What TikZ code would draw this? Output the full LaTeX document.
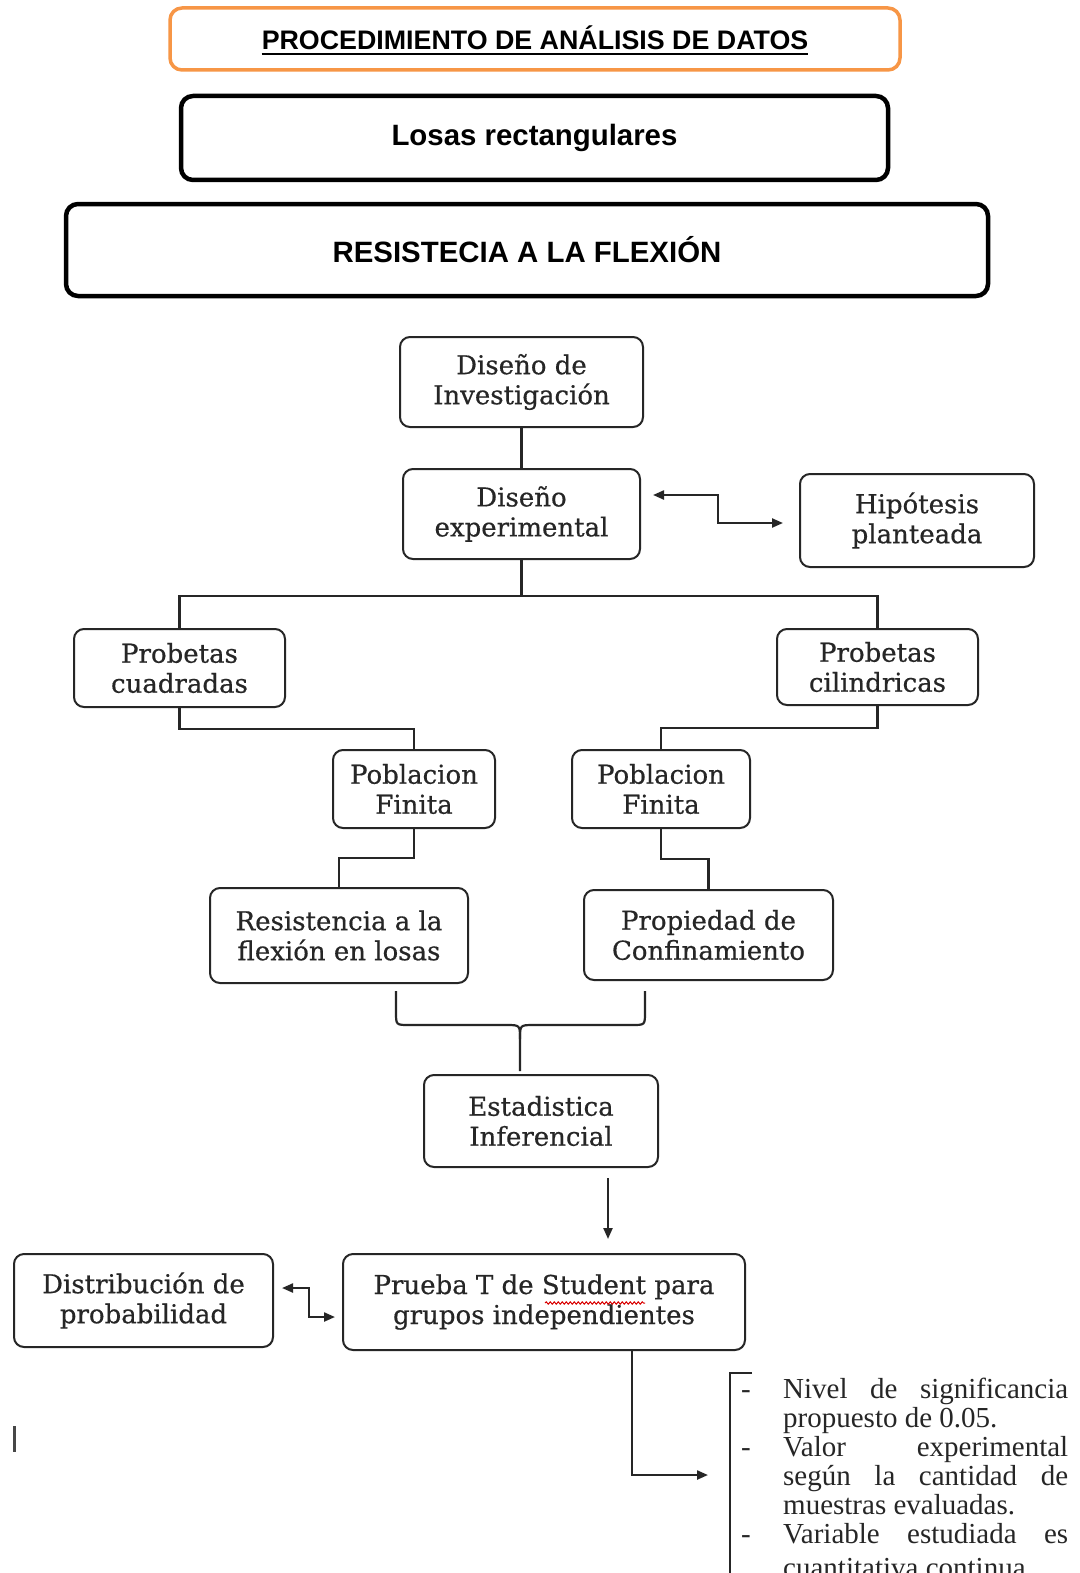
\documentclass[tikz,border=0pt]{standalone}
\usepackage{fontspec}
\setmainfont{DejaVu Serif}[FakeBold=0.5]
\newfontfamily\hdrfont{Liberation Sans}
\newfontfamily\lstfont{Liberation Serif}
\usetikzlibrary{arrows.meta,calc,decorations.pathmorphing}
\definecolor{orng}{HTML}{F79646}
\definecolor{ink}{HTML}{262626}
\tikzset{
  fbox/.style={draw=ink, line width=2pt, rounded corners=10pt, align=center,
    font=\fontsize{26}{30}\selectfont, text=ink, inner sep=0pt},
  hbox/.style={draw=black, line width=4.5pt, rounded corners=12pt,
    font=\hdrfont\bfseries\fontsize{29.4}{34}\selectfont, inner sep=0pt},
  conn/.style={draw=ink, line width=2.2pt},
  arr/.style={conn, -{Triangle[length=11pt,width=9pt]}},
  darr/.style={conn, {Triangle[length=11pt,width=9pt]}-{Triangle[length=11pt,width=9pt]}},
  lst/.style={font=\lstfont\fontsize{29}{29}\selectfont, text=ink, inner sep=0pt, anchor=base west}
}
\begin{document}
\begin{tikzpicture}[x=1pt,y=-1pt]
\clip (0,0) rectangle (1079,1573);
\fill[white] (0,0) rectangle (1079,1573);

% headers
\node[hbox, draw=orng, line width=3.5pt, minimum width=730pt, minimum height=62pt] (h1) at (535,39) {};
\node[font=\hdrfont\bfseries\fontsize{26.8}{30}\selectfont, inner sep=0pt] (t1) at (535,38) {PROCEDIMIENTO DE ANÁLISIS DE DATOS};
\draw[line width=2pt] ([yshift=-4pt]t1.base west) -- ([yshift=-4pt]t1.base east);
\node[hbox, minimum width=707pt, minimum height=84pt] (h2) at (534.5,138) {Losas rectangulares};
\node[hbox, minimum width=922pt, minimum height=92pt] (h3) at (527,250) {RESISTECIA A LA FLEXIÓN};

% flow boxes
\node[fbox, minimum width=243pt, minimum height=90pt] (inv) at (521.5,382) {Diseño de\\Investigación};
\node[fbox, minimum width=237pt, minimum height=90pt] (exp) at (521.5,514) {Diseño\\experimental};
\node[fbox, minimum width=234pt, minimum height=93pt] (hip) at (917,520.5) {Hipótesis\\planteada};
\node[fbox, minimum width=211pt, minimum height=78pt] (cuad) at (179.5,668) {Probetas\\cuadradas};
\node[fbox, minimum width=201pt, minimum height=76pt] (cil) at (877.5,667) {Probetas\\cilindricas};
\node[fbox, minimum width=162pt, minimum height=78pt] (pfl) at (414,789) {Poblacion\\Finita};
\node[fbox, minimum width=178pt, minimum height=78pt] (pfr) at (661,789) {Poblacion\\Finita};
\node[fbox, minimum width=258pt, minimum height=95pt] (res) at (339,935.5) {Resistencia a la\\flexión en losas};
\node[fbox, minimum width=249pt, minimum height=90pt] (prop) at (708.5,935) {Propiedad de\\Confinamiento};
\node[fbox, minimum width=234pt, minimum height=92pt] (est) at (541,1121) {Estadistica\\Inferencial};
\node[fbox, minimum width=259pt, minimum height=93pt] (dist) at (143.5,1300.5) {Distribución de\\probabilidad};
\node[fbox, minimum width=402pt, minimum height=96pt] (prueba) at (544,1302) {Prueba T de Student para\\grupos independientes};

% connectors
\draw[conn] (inv.south) -- (exp.north);
\draw[conn] (exp.south) -- ++(0,36) coordinate (bm);
\draw[conn] (cuad.north) |- (bm) -| (cil.north);
\draw[conn] (cuad.south) -- ++(0,21) -| (pfl.north);
\draw[conn] (cil.south) -- ++(0,22) -| (pfr.north);
\draw[conn] (pfl.south) -- ++(0,29) -| (res.north);
\draw[conn] (pfr.south) -- ++(0,30) -| (prop.north);

% brace
\coordinate (bl) at ($(res.south)+(57,7)$);
\coordinate (br) at ($(prop.south)+(-63.5,10)$);
\coordinate (stem) at ($(est.north)+(-21,-3)$);
\draw[conn] (bl) -- (396,1012) .. controls (396,1025) .. (409,1025) -- (506,1025)
  .. controls (520,1025) .. (520,1039) -- (stem);
\draw[conn] (br) -- (645,1012) .. controls (645,1025) .. (632,1025) -- (534,1025)
  .. controls (520,1025) .. (520,1039);

% arrows
\draw[darr] ($(exp.east)+(12,-19)$) -- ++(65,0) |- ($(hip.west)+(-16,2.5)$);
\draw[arr] ($(est.south)+(67,10)$) -- ($(prueba.north)+(64,-14)$);
\draw[darr] ($(dist.east)+(8,-12.5)$) -- ++(27,0) |- ($(prueba.west)+(-7,15)$);
\coordinate (lt) at (708,1475);
\draw[arr] ($(prueba.south)+(88,0)$) |- (lt);

% spell-check underline
\draw[red!85!black, line width=1pt, decorate, decoration={snake, amplitude=1.2pt, segment length=4pt}] (545,1303) -- (645,1303);

% list bracket
\draw[conn, line width=2pt] (752,1373) -- (730,1373) -- (730,1580);

% list text
\node[lst] (d1) at (741,1398) {-};
\node[lst] (l1) at (783,1398) {\makebox[285pt][s]{Nivel de significancia}};
\node[lst] (l2) at (783,1427) {propuesto de 0.05.};
\node[lst] (d2) at (741,1456) {-};
\node[lst] (l3) at (783,1456) {\makebox[285pt][s]{Valor experimental}};
\node[lst] (l4) at (783,1485) {\makebox[285pt][s]{según la cantidad de}};
\node[lst] (l5) at (783,1514) {muestras evaluadas.};
\node[lst] (d3) at (741,1543) {-};
\node[lst] (l6) at (783,1543) {\makebox[285pt][s]{Variable estudiada es}};
\node[lst] (l7) at (783,1577) {cuantitativa continua.};

% stray cursor mark
\draw[line width=3pt, ink!85] (14,1426) -- (14,1452);
\end{tikzpicture}
\end{document}
